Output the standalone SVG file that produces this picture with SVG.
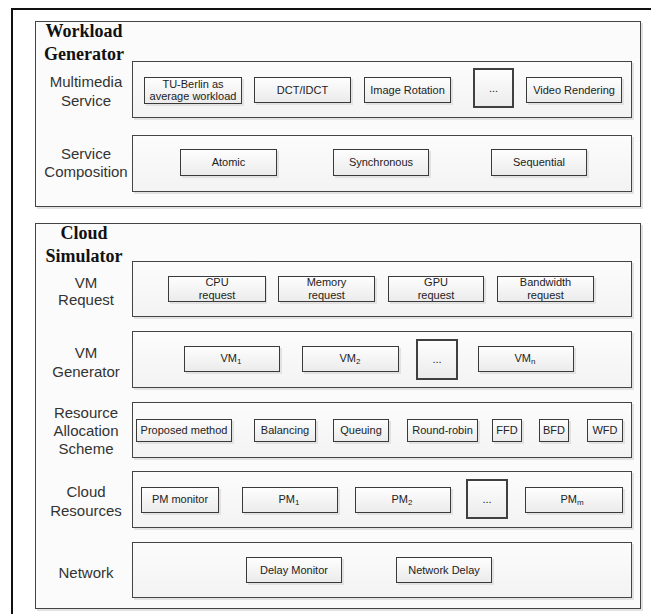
<svg xmlns="http://www.w3.org/2000/svg" width="651" height="614" viewBox="0 0 651 614">
<defs>
<linearGradient id="gIn" x1="0" y1="0" x2="0" y2="1">
<stop offset="0" stop-color="#fefefe"/>
<stop offset="1" stop-color="#ebebeb"/>
</linearGradient>
<linearGradient id="gRow" x1="0" y1="0" x2="0" y2="1">
<stop offset="0" stop-color="#fcfcfc"/>
<stop offset="1" stop-color="#f3f3f3"/>
</linearGradient>
<style>
.frame{fill:none;stroke:#111;stroke-width:2}
.cont{fill:#fbfbfb;stroke:#444;stroke-width:1}
.row{fill:url(#gRow);stroke:#444;stroke-width:1}
.box{fill:url(#gIn);stroke:#3a3a3a;stroke-width:1}
.dots{fill:url(#gIn);stroke:#404040;stroke-width:2}
.sh{fill:#e2e2e2}
.title{font-family:"Liberation Serif","Times New Roman",serif;font-weight:bold;font-size:18px;fill:#111;text-anchor:middle}
.lab{font-family:"Liberation Sans",Arial,sans-serif;font-size:15px;fill:#333;text-anchor:middle}
.t{font-family:"Liberation Sans",Arial,sans-serif;font-size:11px;fill:#222;text-anchor:middle}
.sub{font-size:8px}
</style>
</defs>
<rect x="0" y="0" width="651" height="614" fill="#fff"/>
<path class="frame" d="M12,614 V9 H651"/>

<g id="workload-generator">
<rect class="sh" x="37" y="23" width="606" height="186"/>
<rect class="cont" x="35.5" y="21.5" width="605" height="185"/>
<text class="title" x="84" y="37">Workload</text>
<text class="title" x="84" y="60">Generator</text>
</g>

<g id="multimedia-service">
<rect class="sh" x="134" y="63" width="500" height="57"/>
<rect class="row" x="132.5" y="61.5" width="499" height="56"/>
<text class="lab" x="86" y="87">Multimedia</text>
<text class="lab" x="86" y="106">Service</text>
</g>
<g id="tu-berlin"><rect class="sh" x="146" y="79" width="98" height="27"/><rect class="box" x="144.5" y="77.5" width="97" height="26"/><text class="t" x="193" y="88">TU-Berlin as</text><text class="t" x="193" y="100">average workload</text></g>
<g id="dct"><rect class="sh" x="256" y="79" width="97" height="26"/><rect class="box" x="254.5" y="77.5" width="96" height="25"/><text class="t" x="302.5" y="94">DCT/IDCT</text></g>
<g id="image-rotation"><rect class="sh" x="366" y="79" width="87" height="26"/><rect class="box" x="364.5" y="77.5" width="86" height="25"/><text class="t" x="407.5" y="94">Image Rotation</text></g>
<g id="ellipsis-1"><rect class="dots" x="474" y="69" width="39" height="38"/><text class="t" x="493.5" y="92">...</text></g>
<g id="video-rendering"><rect class="sh" x="528" y="79" width="96" height="26"/><rect class="box" x="526.5" y="77.5" width="95" height="25"/><text class="t" x="574" y="94">Video Rendering</text></g>

<g id="service-composition">
<rect class="sh" x="134" y="137" width="500" height="57"/>
<rect class="row" x="132.5" y="135.5" width="499" height="56"/>
<text class="lab" x="86" y="159">Service</text>
<text class="lab" x="86" y="177">Composition</text>
</g>
<g id="atomic"><rect class="sh" x="182" y="151" width="97" height="27"/><rect class="box" x="180.5" y="149.5" width="96" height="26"/><text class="t" x="228.5" y="166">Atomic</text></g>
<g id="synchronous"><rect class="sh" x="335" y="151" width="96" height="27"/><rect class="box" x="333.5" y="149.5" width="95" height="26"/><text class="t" x="381" y="166">Synchronous</text></g>
<g id="sequential"><rect class="sh" x="493" y="151" width="96" height="27"/><rect class="box" x="491.5" y="149.5" width="95" height="26"/><text class="t" x="539" y="166">Sequential</text></g>

<g id="cloud-simulator">
<rect class="sh" x="37" y="225" width="606" height="386"/>
<rect class="cont" x="35.5" y="223.5" width="605" height="385"/>
<text class="title" x="84" y="239">Cloud</text>
<text class="title" x="84" y="262">Simulator</text>
</g>

<g id="vm-request">
<rect class="sh" x="134" y="263" width="500" height="56"/>
<rect class="row" x="132.5" y="261.5" width="499" height="55"/>
<text class="lab" x="86" y="288">VM</text>
<text class="lab" x="86" y="305">Request</text>
</g>
<g id="cpu-request"><rect class="sh" x="170" y="278" width="97" height="26"/><rect class="box" x="168.5" y="276.5" width="97" height="25"/><text class="t" x="217" y="286">CPU</text><text class="t" x="217" y="299">request</text></g>
<g id="memory-request"><rect class="sh" x="280" y="278" width="97" height="26"/><rect class="box" x="278.5" y="276.5" width="96" height="25"/><text class="t" x="326.5" y="286">Memory</text><text class="t" x="326.5" y="299">request</text></g>
<g id="gpu-request"><rect class="sh" x="390" y="278" width="96" height="26"/><rect class="box" x="388.5" y="276.5" width="95" height="25"/><text class="t" x="436" y="286">GPU</text><text class="t" x="436" y="299">request</text></g>
<g id="bandwidth-request"><rect class="sh" x="499" y="278" width="97" height="26"/><rect class="box" x="497.5" y="276.5" width="96" height="25"/><text class="t" x="545.5" y="286">Bandwidth</text><text class="t" x="545.5" y="299">request</text></g>

<g id="vm-generator">
<rect class="sh" x="134" y="333" width="500" height="57"/>
<rect class="row" x="132.5" y="331.5" width="499" height="56"/>
<text class="lab" x="86" y="358">VM</text>
<text class="lab" x="86" y="377">Generator</text>
</g>
<g id="vm1"><rect class="sh" x="186" y="348" width="96" height="26"/><rect class="box" x="184.5" y="346.5" width="95" height="25"/><text class="t" x="231" y="362">VM<tspan class="sub" dy="2">1</tspan></text></g>
<g id="vm2"><rect class="sh" x="304" y="348" width="97" height="26"/><rect class="box" x="302.5" y="346.5" width="96" height="25"/><text class="t" x="350" y="362">VM<tspan class="sub" dy="2">2</tspan></text></g>
<g id="ellipsis-2"><rect class="dots" x="417" y="340" width="40" height="39"/><text class="t" x="437" y="363">...</text></g>
<g id="vmn"><rect class="sh" x="480" y="348" width="96" height="26"/><rect class="box" x="478.5" y="346.5" width="95" height="25"/><text class="t" x="525" y="362">VM<tspan class="sub" dy="2">n</tspan></text></g>

<g id="resource-allocation-scheme">
<rect class="sh" x="134" y="404" width="500" height="56"/>
<rect class="row" x="132.5" y="402.5" width="499" height="55"/>
<text class="lab" x="86" y="418">Resource</text>
<text class="lab" x="86" y="436">Allocation</text>
<text class="lab" x="86" y="454">Scheme</text>
</g>
<g id="proposed-method"><rect class="sh" x="138" y="421" width="96" height="23"/><rect class="box" x="136.5" y="419.5" width="95" height="22"/><text class="t" x="184" y="434">Proposed method</text></g>
<g id="balancing"><rect class="sh" x="256" y="421" width="62" height="23"/><rect class="box" x="254.5" y="419.5" width="61" height="22"/><text class="t" x="285" y="434">Balancing</text></g>
<g id="queuing"><rect class="sh" x="335" y="421" width="56" height="23"/><rect class="box" x="333.5" y="419.5" width="55" height="22"/><text class="t" x="361" y="434">Queuing</text></g>
<g id="round-robin"><rect class="sh" x="409" y="421" width="71" height="23"/><rect class="box" x="407.5" y="419.5" width="70" height="22"/><text class="t" x="442.5" y="434">Round-robin</text></g>
<g id="ffd"><rect class="sh" x="494" y="421" width="30" height="23"/><rect class="box" x="492.5" y="419.5" width="29" height="22"/><text class="t" x="507" y="434">FFD</text></g>
<g id="bfd"><rect class="sh" x="541" y="421" width="30" height="23"/><rect class="box" x="539.5" y="419.5" width="29" height="22"/><text class="t" x="554" y="434">BFD</text></g>
<g id="wfd"><rect class="sh" x="589" y="421" width="36" height="23"/><rect class="box" x="587.5" y="419.5" width="35" height="22"/><text class="t" x="605" y="434">WFD</text></g>

<g id="cloud-resources">
<rect class="sh" x="134" y="473" width="500" height="57"/>
<rect class="row" x="132.5" y="471.5" width="499" height="56"/>
<text class="lab" x="86" y="497">Cloud</text>
<text class="lab" x="86" y="516">Resources</text>
</g>
<g id="pm-monitor"><rect class="sh" x="143" y="489" width="78" height="26"/><rect class="box" x="141.5" y="487.5" width="77" height="25"/><text class="t" x="180" y="503">PM monitor</text></g>
<g id="pm1"><rect class="sh" x="244" y="489" width="96" height="26"/><rect class="box" x="242.5" y="487.5" width="95" height="25"/><text class="t" x="289" y="503">PM<tspan class="sub" dy="2">1</tspan></text></g>
<g id="pm2"><rect class="sh" x="357" y="489" width="96" height="26"/><rect class="box" x="355.5" y="487.5" width="95" height="25"/><text class="t" x="402" y="503">PM<tspan class="sub" dy="2">2</tspan></text></g>
<g id="ellipsis-3"><rect class="dots" x="467" y="480" width="40" height="38"/><text class="t" x="487" y="503">...</text></g>
<g id="pmm"><rect class="sh" x="527" y="489" width="98" height="26"/><rect class="box" x="525.5" y="487.5" width="97" height="25"/><text class="t" x="572" y="503">PM<tspan class="sub" dy="2">m</tspan></text></g>

<g id="network">
<rect class="sh" x="134" y="544" width="500" height="56"/>
<rect class="row" x="132.5" y="542.5" width="499" height="55"/>
<text class="lab" x="86" y="578">Network</text>
</g>
<g id="delay-monitor"><rect class="sh" x="248" y="559" width="96" height="26"/><rect class="box" x="246.5" y="557.5" width="95" height="25"/><text class="t" x="294" y="574">Delay Monitor</text></g>
<g id="network-delay"><rect class="sh" x="398" y="559" width="96" height="26"/><rect class="box" x="396.5" y="557.5" width="95" height="25"/><text class="t" x="444" y="574">Network Delay</text></g>

<g id="connectors"></g>
</svg>
